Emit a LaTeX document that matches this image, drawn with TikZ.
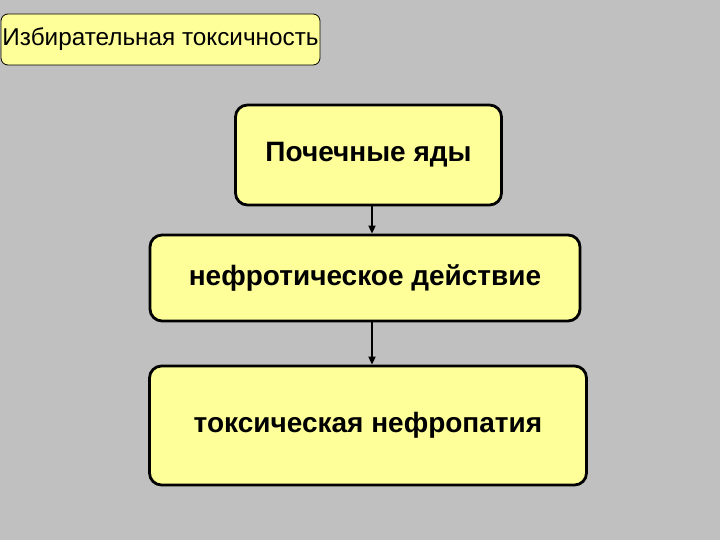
\documentclass[tikz,border=0pt]{standalone}
\usepackage{fontspec}
\setmainfont{Liberation Sans}
\usetikzlibrary{arrows.meta}
\definecolor{slidegray}{HTML}{C0C0C0}
\definecolor{boxyellow}{HTML}{FFFF99}
\tikzset{
  bigbox/.style={draw, line width=2.8pt, fill=boxyellow, rounded corners=12pt,
    font=\bfseries\fontsize{28}{32}\selectfont, inner sep=0pt},
  tagbox/.style={draw, line width=0.8pt, fill=boxyellow, rounded corners=7pt,
    font=\fontsize{24.3}{28}\selectfont, inner sep=0pt},
  flow/.style={-{Triangle[length=8pt,width=7pt]}, line width=1.8pt}
}
\begin{document}
\begin{tikzpicture}[x=1pt, y=-1pt]
\fill[slidegray] (0, 0) rectangle (720, 540);
\useasboundingbox (0, 0) rectangle (720, 540);
\node[tagbox, minimum width=319pt, minimum height=51pt] (tag) at (160.5, 39.5) {Избирательная токсичность};
\node[bigbox, minimum width=266pt, minimum height=100pt] (yady) at (368.5, 155) {Почечные яды};
\node[bigbox, minimum width=430pt, minimum height=86pt] (deistvie) at (365, 278) {нефротическое действие};
\node[bigbox, minimum width=437pt, minimum height=119pt] (nefropatiya) at (368, 425.5) {токсическая нефропатия};
\draw[flow] (yady.south -| 372, 0) -- (deistvie.north -| 372, 0);
\draw[flow] (deistvie.south -| 372, 0) -- (nefropatiya.north -| 372, 0);
\end{tikzpicture}
\end{document}
